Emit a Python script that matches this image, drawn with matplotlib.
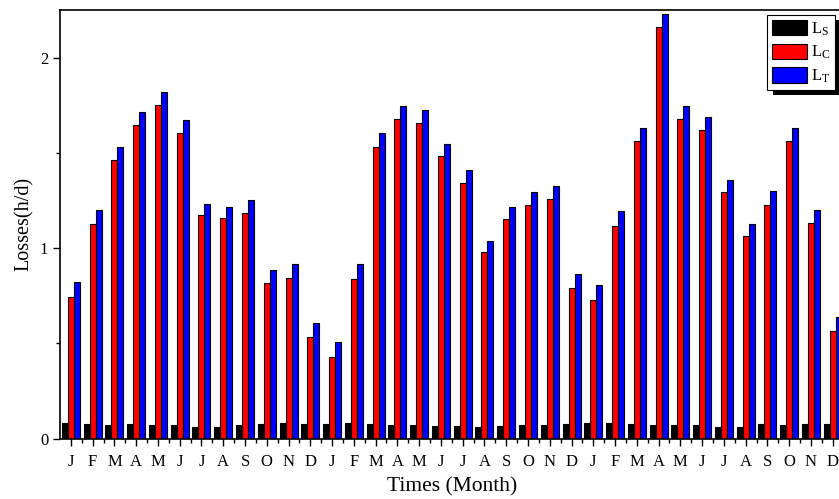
import numpy as np
import matplotlib
matplotlib.use('Agg')
import matplotlib.pyplot as plt
from matplotlib.patches import Rectangle
from matplotlib.transforms import IdentityTransform

plt.rcParams['font.family'] = ['Liberation Serif', 'DejaVu Serif']
plt.rcParams['mathtext.fontset'] = 'custom'
plt.rcParams['mathtext.rm'] = 'Liberation Serif'

# months of three years
months = ['J', 'F', 'M', 'A', 'M', 'J', 'J', 'A', 'S', 'O', 'N', 'D'] * 3

LS = [0.080, 0.077, 0.072, 0.074, 0.071, 0.070, 0.059, 0.063, 0.070, 0.077, 0.080, 0.077,
      0.075, 0.082, 0.075, 0.070, 0.072, 0.065, 0.067, 0.058, 0.065, 0.072, 0.072, 0.074,
      0.080, 0.079, 0.074, 0.072, 0.071, 0.070, 0.063, 0.061, 0.074, 0.072, 0.075, 0.077]
LC = [0.745, 1.125, 1.460, 1.644, 1.751, 1.604, 1.174, 1.157, 1.183, 0.815, 0.842, 0.532,
      0.430, 0.837, 1.530, 1.677, 1.656, 1.484, 1.344, 0.982, 1.155, 1.227, 1.257, 0.789,
      0.728, 1.117, 1.560, 2.159, 1.680, 1.621, 1.297, 1.066, 1.227, 1.562, 1.131, 0.563]
LT = [0.824, 1.200, 1.530, 1.714, 1.819, 1.670, 1.232, 1.216, 1.250, 0.887, 0.917, 0.605,
      0.505, 0.915, 1.604, 1.744, 1.724, 1.546, 1.410, 1.036, 1.216, 1.297, 1.325, 0.863,
      0.808, 1.194, 1.632, 2.229, 1.747, 1.688, 1.357, 1.124, 1.298, 1.632, 1.202, 0.637]

ind = np.arange(len(months))
width = 0.275

fig = plt.figure(figsize=(8.39, 4.99), dpi=100)
ax = fig.add_axes([0.0715, 0.1212, 0.934, 0.8587])

rect1 = ax.bar(ind - width, LS, width, color='black', edgecolor='black', linewidth=0.8)
rect2 = ax.bar(ind, LC, width, color='red', edgecolor='black', linewidth=0.8)
rect3 = ax.bar(ind + width, LT, width, color='blue', edgecolor='black', linewidth=0.8)

ax.set_xlim(-0.5, 35.5)
ax.set_ylim(0, 2.25)

ax.set_xticks(ind)
ax.set_xticklabels(months, fontsize=12)
ax.set_xticks(ind + 0.5, minor=True)
ax.set_yticks([0, 1, 2])
ax.set_yticklabels(['0', '1', '2'], fontsize=12)
ax.set_yticks([0.5, 1.5], minor=True)
ax.tick_params(axis='both', which='major', direction='out', length=5, width=1)
ax.tick_params(axis='both', which='minor', direction='out', length=3, width=1)
ax.tick_params(axis='x', which='major', pad=6)

for sp in ax.spines.values():
    sp.set_linewidth(1.2)

ax.set_xlabel('Times (Month)', fontsize=15.5, labelpad=5)
ax.set_ylabel('Losses(h/d)', fontsize=14.5, labelpad=4)

leg = ax.legend((rect1, rect2, rect3),
                (r'$\mathregular{L_S}$', r'$\mathregular{L_C}$', r'$\mathregular{L_T}$'),
                loc='upper right', bbox_to_anchor=(835 / 839, 1 - 15 / 499),
                bbox_transform=fig.transFigure, borderaxespad=0,
                fontsize=12, fancybox=False, framealpha=1, edgecolor='black',
                handlelength=2.1, handleheight=1.05, handletextpad=0.2,
                labelspacing=0.35, borderpad=0.3)
leg.get_frame().set_linewidth(0.8)

# black shadow behind the legend box
fig.canvas.draw()
bb = leg.get_window_extent()
shadow = Rectangle((bb.x0 + 6, bb.y0 - 5), bb.width, bb.height,
                   transform=IdentityTransform(), facecolor='black',
                   edgecolor='none', zorder=4.5, clip_on=False)
ax.add_patch(shadow)
ax.set_xlim(-0.5, 35.5)
ax.set_ylim(0, 2.25)

plt.savefig('out.png', dpi=100)
plt.close()
